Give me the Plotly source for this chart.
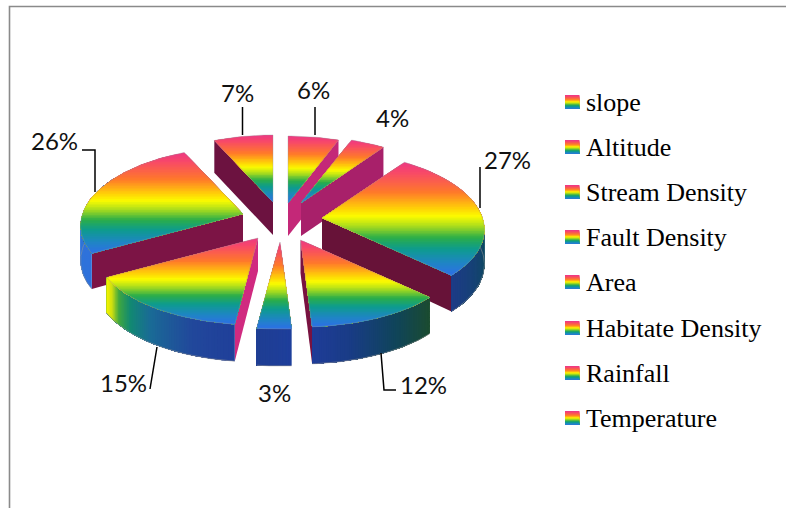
import numpy as np
import plotly.graph_objects as go

# ---- data ----
categories = ["slope", "Altitude", "Stream Density", "Fault Density", "Area",
              "Habitate Density", "Rainfall", "Temperature"]
shares = [6, 4, 27, 12, 3, 15, 26, 7]

# ---- layout of the exploded 3-D pie (pixels) ----
W, H = 786, 508
tip_x = [288, 301, 322, 300.5, 280, 258, 243, 273]
tip_y = [203, 203, 218, 240, 242, 238, 214, 202]
draw_order = [7, 0, 1, 6, 2, 5, 4, 3]
RX0, RX1, RY0, RY1 = 160.5, 25, 77, 10

RAINBOW = [(0, "#ee3a82"), (.08, "#f8486a"), (.26, "#ff7a2a"), (.40, "#ffd008"), (.47, "#fcfc00"),
           (.56, "#a8dc1e"), (.66, "#2cae4a"), (.76, "#0e9c8e"), (.88, "#1f86c4"), (1, "#2f6eea")]
wall_colors = {
    2: [(0, "#0a4e4a"), (.5, "#0e4a62"), (1, "#1d3c86")],
    3: [(0, "#1c4c30"), (.35, "#10455a"), (.75, "#1a3c88"), (1, "#1f3c98")],
    4: [(0, "#1f409c"), (1, "#1f3f94")],
    5: [(0, "#20409a"), (.25, "#22489c"), (.55, "#1a6c96"), (.72, "#128a72"), (.84, "#40a840"), (.93, "#d0e010"), (1, "#f2f200")],
    6: [(0, "#2f72dc"), (.7, "#2f78d6"), (1, "#2a86b8")],
}
# which cut faces show: slice index, share boundary used, colour
cut_faces = {0: [(1, "#c42878")], 1: [(1, "#a8206a")], 2: [(1, "#671238")], 3: [(1, "#781240")],
             5: [(0, "#d02a80")], 6: [(0, "#7c1445")], 7: [(0, "#6c1240")]}

legend_y = [102, 147, 192, 237, 282, 328, 373, 418]
label_pos = [(313, 89), (392, 117), (507, 159), (423, 384), (274, 392), (123, 382), (54, 140), (237, 92)]
leaders = [[(315, 107), (315, 135)], None, [(480, 167), (480, 208)], [(381, 353), (384, 390), (396, 390)],
           None, [(157, 347), (150, 389)], [(82, 150), (95, 150), (95, 192)], [(242.5, 107), (242.5, 135)]]


def hex2rgb(h):
    return np.array([int(h[i:i + 2], 16) for i in (1, 3, 5)], float)


def ramp(stops, t):
    t = min(max(t, 0), 1)
    for (a, ca), (b, cb) in zip(stops, stops[1:]):
        if t <= b:
            f = (t - a) / (b - a)
            c = hex2rgb(ca) * (1 - f) + hex2rgb(cb) * f
            return "rgb(%d,%d,%d)" % tuple(c)
    return stops[-1][1]


def rim(i, th):
    s, c = np.sin(th), np.cos(th)
    return tip_x[i] + s * (RX0 - RX1 * c), tip_y[i] - c * (RY0 - RY1 * c)


def depth(c):
    return 34.5 - 2.5 * c


def clip_below(px, py, y0):
    ox, oy = [], []
    n = len(px)
    for k in range(n):
        x1, y1, x2, y2 = px[k], py[k], px[(k + 1) % n], py[(k + 1) % n]
        if y1 >= y0:
            ox.append(x1); oy.append(y1)
        if (y1 >= y0) != (y2 >= y0):
            f = (y0 - y1) / (y2 - y1)
            ox.append(x1 + f * (x2 - x1)); oy.append(y0)
    return ox, oy


fig = go.Figure()


def poly(x, y, color):
    fig.add_trace(go.Scatter(x=list(x) + [x[0]], y=list(y) + [y[0]], mode="lines", fill="toself",
                             fillcolor=color, line=dict(width=0, color=color),
                             hoverinfo="skip", showlegend=False))


def stroke(x, y, color="black", width=1.4):
    fig.add_trace(go.Scatter(x=x, y=y, mode="lines", line=dict(width=width, color=color),
                             hoverinfo="skip", showlegend=False))


def rainbow_fill(px, py, step=1.6):
    y0, y1 = min(py), max(py)
    for yy in np.arange(y0, y1, step):
        x, y = clip_below(px, py, yy)
        if len(x) > 2:
            poly(x, y, ramp(RAINBOW, (yy - y0) / (y1 - y0)))


# boundaries of each slice, clockwise from the top
edges = 2 * np.pi * np.concatenate([[0], np.cumsum(shares)]) / sum(shares)

for i in draw_order:
    a, b = edges[i], edges[i + 1]
    # cut faces
    for side, col in cut_faces.get(i, []):
        th = a if side == 0 else b
        rx, ry = rim(i, th)
        d = depth(np.cos(th))
        poly([tip_x[i], rx, rx, tip_x[i]], [tip_y[i], ry, ry + d, tip_y[i] + 33], col)
    # outer wall
    if i in wall_colors:
        lo, hi = max(a, np.radians(70)), min(b, np.radians(300))
        ths = np.linspace(lo, hi, 60)
        for k, t0 in enumerate(ths[:-1]):
            tt = ths[k:]
            xs, ys = rim(i, tt)
            yb = ys + depth(np.cos(tt))
            poly(np.r_[xs, xs[::-1]], np.r_[ys, yb[::-1]], ramp(wall_colors[i], k / 58))
        xs, ys = rim(i, ths)
        stroke(xs, ys + depth(np.cos(ths)), "rgba(150,150,150,0.55)", 1)
    # top face
    tt = np.linspace(a, b, max(6, int(shares[i] * 3)))
    xs, ys = rim(i, tt)
    px = np.r_[tip_x[i], xs].tolist()
    py = np.r_[tip_y[i], ys].tolist()
    rainbow_fill(px, py)
    stroke(px + px[:1], py + py[:1], "rgba(150,150,150,0.35)", 1)

# legend
for name, y in zip(categories, legend_y):
    rainbow_fill([565, 579.5, 579.5, 565], [y - 7, y - 7, y + 7, y + 7], 1.2)
    fig.add_annotation(x=583.5, y=y + 0.5, text=name, showarrow=False, xanchor="left", yanchor="middle",
                       font=dict(family="Liberation Serif", size=26, color="black"))

# value labels and leaders
for v, (lx, ly), lead in zip(shares, label_pos, leaders):
    fig.add_annotation(x=lx, y=ly, text=f"{v}%", showarrow=False, xanchor="center", yanchor="middle",
                       font=dict(family="Lato", size=24, color="#111111"))
    if lead:
        stroke([p[0] for p in lead], [p[1] for p in lead], "black", 1.5)

# chart frame
stroke([9.5, 9.5, 786], [508, 6.5, 6.5], "#8a8a8a", 1.6)

fig.update_layout(width=W, height=H, autosize=False, margin=dict(l=0, r=0, t=0, b=0),
                  paper_bgcolor="white", plot_bgcolor="white", showlegend=False,
                  xaxis=dict(range=[0, W], visible=False, fixedrange=True),
                  yaxis=dict(range=[H, 0], visible=False, fixedrange=True))
fig.write_html("out.html", config={"displayModeBar": False},
               post_script="document.body.style.margin='0';document.body.style.overflow='hidden';")
